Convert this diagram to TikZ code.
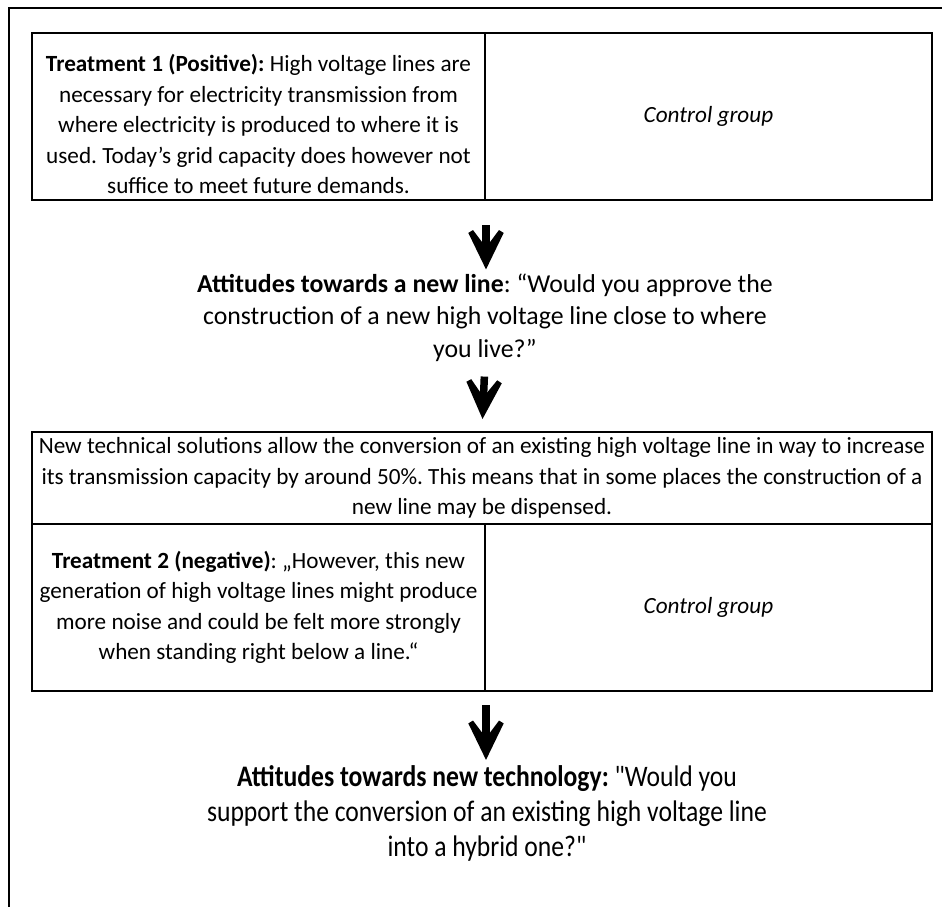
\documentclass[tikz,border=0pt]{standalone}
\usepackage{fontspec}
\setmainfont{Carlito}
\newfontfamily\narrowfont[FakeStretch=0.86]{Carlito}
\usetikzlibrary{arrows.meta}
\frenchspacing

\begin{document}
\begin{tikzpicture}[x=1pt,y=-1pt,
	question/.style={align=center,inner sep=0pt,font=\fontsize{25.8}{32.5}\selectfont},
	question2/.style={align=center,inner sep=0pt,font=\narrowfont\fontsize{29.8}{35}\selectfont},
	flow/.style={draw=black,line width=7.5pt,-{Stealth[length=62pt,width=60pt,inset=40pt]}}]
	\useasboundingbox (0,0) rectangle (942,907);
	% outer frame, cut at right and bottom
	\draw[line width=1.6pt] (9,907) -- (9,8) -- (942,8);

	\begin{scope}[every node/.style={rectangle,draw,line width=2pt,inner sep=0pt,align=center,font=\fontsize{23.2}{30.5}\selectfont}]
		\node[minimum width=453pt,minimum height=167pt] (t1) at (258.5,116.5) {};
		\node[minimum width=447pt,minimum height=167pt] (c1) at (708.5,116.5) {\itshape Control group};
		\node[minimum width=900pt,minimum height=92pt] (info) at (482,478) {New technical solutions allow the conversion of an existing high voltage line in way to increase\\its transmission capacity by around 50\%. This means that in some places the construction of a\\new line may be dispensed.};
		\node[minimum width=453pt,minimum height=167pt] (t2) at (258.5,607.5) {\textbf{Treatment 2 (negative)}: „However, this new\\generation of high voltage lines might produce\\more noise and could be felt more strongly\\when standing right below a line.“};
		\node[minimum width=447pt,minimum height=167pt] (c2) at (708.5,607.5) {\itshape Control group};
	\end{scope}
	\node[align=center,inner sep=0pt,font=\fontsize{23.2}{30.5}\selectfont] (t1text) at (258.5,124) {\textbf{Treatment 1 (Positive):} High voltage lines are\\necessary for electricity transmission from\\where electricity is produced to where it is\\used. Today’s grid capacity does however not\\suffice to meet future demands.};

	\node[question] (q1) at (485,317.5) {\textbf{Attitudes towards a new line}: “Would you approve the\\construction of a new high voltage line close to where\\you live?”};
	\node[question2] (q2) at (487,813) {\textbf{Attitudes towards new technology:} "Would you\\support the conversion of an existing high voltage line\\into a hybrid one?"};

	% arrows between the steps
	\coordinate (a1) at ([yshift=-24pt]t1.south east);
	\coordinate (a3) at ([yshift=-13pt]t2.south east);
	\draw[flow,shorten >=4pt] (a1) -- (a1 |- q1.north);
	\draw[flow,shorten <=15pt,shorten >=12pt] (q1.south) -- (info.north);
	\draw[flow,shorten >=5pt] (a3) -- (a3 |- q2.north);
\end{tikzpicture}
\end{document}
